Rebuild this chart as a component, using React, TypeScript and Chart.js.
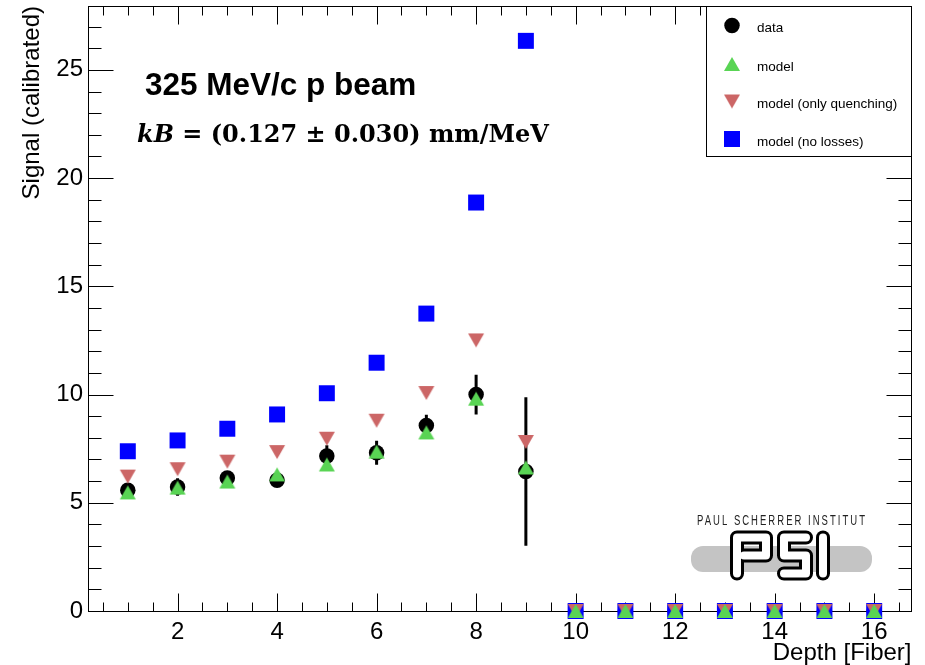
import React, { useEffect, useRef } from "react";
import { Chart, registerables } from "chart.js";
import { drawPoint } from "chart.js/helpers";

Chart.register(...registerables);

// ---------------- data ----------------
const depthFibers = [1, 2, 3, 4, 5, 6, 7, 8, 9, 10, 11, 12, 13, 14, 15, 16];
const dataSignal = [5.58, 5.73, 6.14, 6.04, 7.16, 7.31, 8.57, 10.0, 6.44, 0, 0, 0, 0, 0, 0, 0];
const dataError = [0.25, 0.4, 0.25, 0.2, 0.5, 0.55, 0.5, 0.92, 3.43, 0, 0, 0, 0, 0, 0, 0];
const modelSignal = [5.48, 5.7, 5.98, 6.31, 6.77, 7.36, 8.25, 9.81, 6.63, 0, 0, 0, 0, 0, 0, 0];
const quenchSignal = [6.21, 6.55, 6.9, 7.34, 7.96, 8.79, 10.07, 12.5, 7.81, 0, 0, 0, 0, 0, 0, 0];
const noLossSignal = [7.38, 7.88, 8.42, 9.08, 10.06, 11.47, 13.74, 18.87, 26.34, 0, 0, 0, 0, 0, 0, 0];

const seriesLabels = ["data", "model", "model (only quenching)", "model (no losses)"];
const xTickValues = [2, 4, 6, 8, 10, 12, 14, 16];
const yTickValues = [0, 5, 10, 15, 20, 25];
const xTitle = "Depth [Fiber]";
const yTitle = "Signal (calibrated)";
const beamText = "325 MeV/c p beam";
const kbSymbol = "kB";
const kbText = " = (0.127 ± 0.030) mm/MeV";
const logoCaption = "PAUL SCHERRER INSTITUT";

const FONT = "'Liberation Sans', Arial, Helvetica, sans-serif";
const GREEN = "rgb(89,212,84)";
const RED = "rgb(204,102,102)";
const BLUE = "rgb(0,0,255)";

function makeTriangle(up: boolean, color: string): HTMLCanvasElement {
  const c = document.createElement("canvas");
  c.width = 18;
  c.height = 18;
  const g = c.getContext("2d")!;
  g.fillStyle = color;
  g.beginPath();
  if (up) {
    g.moveTo(1, 16);
    g.lineTo(17, 16);
    g.lineTo(9, 2);
  } else {
    g.moveTo(1, 2);
    g.lineTo(17, 2);
    g.lineTo(9, 16);
  }
  g.closePath();
  g.fill();
  return c;
}

const toPoints = (arr: number[]) => depthFibers.map((x, i) => ({ x, y: arr[i] }));

const frameAndErrors = {
  id: "frameAndErrors",
  beforeDraw(chart: any) {
    const { ctx, width, height } = chart;
    ctx.save();
    ctx.fillStyle = "#fff";
    ctx.fillRect(0, 0, width, height);
    ctx.restore();
  },
  beforeDatasetsDraw(chart: any) {
    const { ctx, chartArea, scales } = chart;
    const xs = scales.x;
    const ys = scales.y;
    const L = Math.floor(chartArea.left) + 0.5;
    const R = Math.floor(chartArea.right) + 0.5;
    const T = Math.floor(chartArea.top) + 0.5;
    const B = Math.floor(chartArea.bottom) + 0.5;
    ctx.save();
    ctx.strokeStyle = "#000";
    ctx.lineWidth = 1;
    ctx.strokeRect(L, T, R - L, B - T);
    ctx.beginPath();
    // x ticks (bottom & top)
    for (let k = Math.ceil(xs.min / 0.5); k * 0.5 <= xs.max; k++) {
      const v = k * 0.5;
      const major = Math.abs(v / 2 - Math.round(v / 2)) < 1e-6;
      const len = major ? 18 : 9;
      const px = Math.round(xs.getPixelForValue(v)) + 0.5;
      ctx.moveTo(px, B);
      ctx.lineTo(px, B - len);
      ctx.moveTo(px, T);
      ctx.lineTo(px, T + len);
    }
    // y ticks (left & right)
    for (let v = Math.ceil(ys.min); v <= ys.max; v++) {
      const major = v % 5 === 0;
      const len = major ? 25 : 13;
      const py = Math.round(ys.getPixelForValue(v)) + 0.5;
      ctx.moveTo(L, py);
      ctx.lineTo(L + len, py);
      ctx.moveTo(R, py);
      ctx.lineTo(R - len, py);
    }
    ctx.stroke();
    // error bars of data
    ctx.lineWidth = 3;
    ctx.beginPath();
    depthFibers.forEach((d, i) => {
      const e = dataError[i];
      if (!e) return;
      const px = xs.getPixelForValue(d);
      ctx.moveTo(px, ys.getPixelForValue(dataSignal[i] - e));
      ctx.lineTo(px, ys.getPixelForValue(dataSignal[i] + e));
    });
    ctx.stroke();
    ctx.restore();
  },
  afterDraw(chart: any) {
    const { ctx } = chart;
    ctx.save();
    // legend box
    const bx = 706.5, by = 6.5, bw = 205, bh = 150;
    ctx.fillStyle = "#fff";
    ctx.fillRect(bx, by, bw, bh);
    ctx.strokeStyle = "#000";
    ctx.lineWidth = 1;
    ctx.strokeRect(bx, by, bw, bh);
    const rowsY = [25.5, 64, 101.5, 139];
    chart.data.datasets.forEach((ds: any, i: number) => {
      ctx.fillStyle = ds.backgroundColor;
      ctx.strokeStyle = ds.backgroundColor;
      drawPoint(ctx, { pointStyle: ds.pointStyle, rotation: 0, radius: ds.pointRadius, borderWidth: 0 }, 732, rowsY[i]);
      ctx.fillStyle = "#000";
      ctx.font = `13.5px ${FONT}`;
      ctx.textBaseline = "middle";
      ctx.textAlign = "left";
      ctx.fillText(ds.label, 757, rowsY[i] + 3);
    });

    // annotations
    ctx.fillStyle = "#000";
    ctx.textBaseline = "alphabetic";
    ctx.textAlign = "left";
    ctx.font = `bold 31.5px ${FONT}`;
    ctx.fillText(beamText, 145, 95);
    ctx.font = `italic bold 24px 'DejaVu Serif', serif`;
    ctx.fillText(kbSymbol, 137, 142);
    const w = ctx.measureText(kbSymbol).width;
    ctx.font = `bold 24px 'DejaVu Serif', serif`;
    ctx.fillText(kbText, 137 + w, 142);

    // PSI logo
    ctx.fillStyle = "#222";
    ctx.font = `14px 'Liberation Sans Narrow', ${FONT}`;
    (ctx as any).letterSpacing = "3px";
    ctx.textAlign = "center";
    ctx.textBaseline = "middle";
    ctx.fillText(logoCaption, 782, 521, 170);
    (ctx as any).letterSpacing = "0px";
    ctx.fillStyle = "#c4c4c4";
    ctx.beginPath();
    (ctx as any).roundRect(691, 546, 181, 26, 12);
    ctx.fill();
    const paths: number[][][] = [
      [[737, 573.5], [737, 537.5], [766, 537.5], [766, 555.5], [744, 555.5]],
      [[806, 537.5], [784, 537.5], [784, 555.5], [806, 555.5], [806, 573.5], [784, 573.5]],
      [[823, 537.5], [823, 573.5]],
    ];
    ctx.lineJoin = "round";
    ctx.lineCap = "round";
    const strokeAll = (color: string, lw: number) => {
      ctx.strokeStyle = color;
      ctx.lineWidth = lw;
      paths.forEach((p) => {
        ctx.beginPath();
        p.forEach(([x, y], j) => (j ? ctx.lineTo(x, y) : ctx.moveTo(x, y)));
        ctx.stroke();
      });
    };
    strokeAll("#000", 14);
    strokeAll("#fff", 8);
    ctx.restore();
  },
};

export default function App() {
  const ref = useRef<HTMLCanvasElement | null>(null);
  useEffect(() => {
    if (!ref.current) return;
    const up = makeTriangle(true, GREEN);
    const down = makeTriangle(false, RED);
    const zeroPad = (s: any) => {
      s.paddingTop = 0;
      s.paddingBottom = 0;
      s.paddingLeft = 0;
      s.paddingRight = 0;
    };
    const chart = new Chart(ref.current, {
      type: "scatter",
      data: {
        datasets: [
          { label: seriesLabels[0], data: toPoints(dataSignal), pointStyle: "circle", pointRadius: 7.75, backgroundColor: "#000", borderColor: "#000", borderWidth: 0, order: 3, clip: false } as any,
          { label: seriesLabels[1], data: toPoints(modelSignal), pointStyle: up, pointRadius: 9, backgroundColor: GREEN, borderColor: GREEN, borderWidth: 0, order: 0, clip: false } as any,
          { label: seriesLabels[2], data: toPoints(quenchSignal), pointStyle: down, pointRadius: 9, backgroundColor: RED, borderColor: RED, borderWidth: 0, order: 1, clip: false } as any,
          { label: seriesLabels[3], data: toPoints(noLossSignal), pointStyle: "rect", pointRadius: 11.3, backgroundColor: BLUE, borderColor: BLUE, borderWidth: 0, order: 2, clip: false } as any,
        ],
      },
      options: {
        responsive: false,
        maintainAspectRatio: false,
        animation: false,
        events: [],
        layout: { autoPadding: false, padding: { top: 6, right: 13.5, left: 0, bottom: 0 } },
        plugins: { legend: { display: false }, tooltip: { enabled: false } },
        scales: {
          x: {
            type: "linear",
            min: 0.2,
            max: 16.75,
            afterBuildTicks: (s: any) => {
              s.ticks = xTickValues.map((v) => ({ value: v }));
            },
            afterFit: (s: any) => {
              s.height = 54;
              zeroPad(s);
            },
            grid: { display: false, drawTicks: false },
            border: { display: false },
            ticks: { color: "#000", font: { family: FONT, size: 24 }, padding: 7, maxRotation: 0, autoSkip: false },
            title: { display: true, text: xTitle, align: "end", color: "#000", font: { family: FONT, size: 24, lineHeight: 1 }, padding: 0 },
          },
          y: {
            type: "linear",
            min: 0,
            max: 27.95,
            afterBuildTicks: (s: any) => {
              s.ticks = yTickValues.map((v) => ({ value: v }));
            },
            afterFit: (s: any) => {
              s.width = 88;
              zeroPad(s);
            },
            grid: { display: false, drawTicks: false },
            border: { display: false },
            ticks: { color: "#000", font: { family: FONT, size: 24 }, padding: 5, autoSkip: false },
            title: { display: true, text: yTitle, align: "end", color: "#000", font: { family: FONT, size: 24, lineHeight: 1 }, padding: { top: 20, bottom: 0 } },
          },
        },
      } as any,
      plugins: [frameAndErrors],
    });
    return () => chart.destroy();
  }, []);
  return (
    <div style={{ position: "absolute", left: 0, top: 0, width: 925, height: 665, background: "#fff" }}>
      <canvas ref={ref} width={925} height={665} style={{ display: "block" }} />
    </div>
  );
}
